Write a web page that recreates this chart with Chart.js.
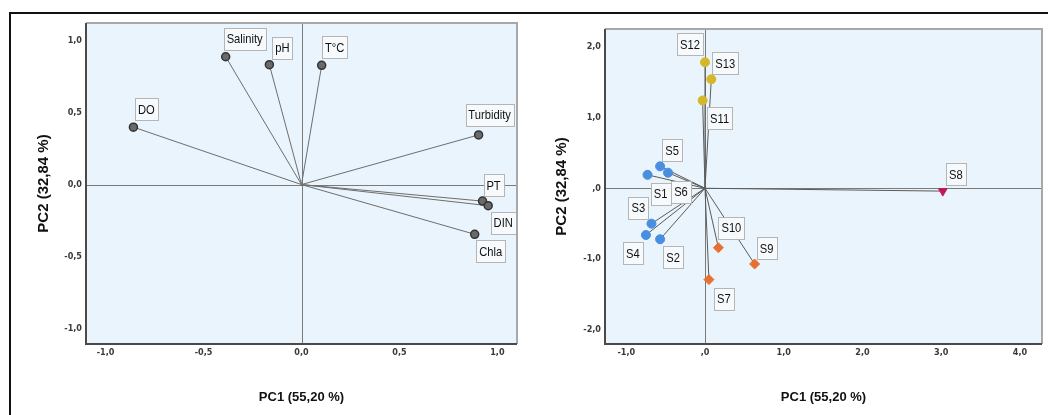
<!DOCTYPE html>
<html>
<head>
<meta charset="utf-8">
<script src="https://cdn.jsdelivr.net/npm/chart.js@4.4.1/dist/chart.umd.min.js"></script>
<style>
  html, body { margin: 0; padding: 0; background: #fff; }
  #wrap { position: relative; width: 1048px; height: 415px; overflow: hidden; }
  #frame { position: absolute; left: 9px; top: 12px; width: 1100px; height: 500px;
           border-top: 2px solid #111; border-left: 2px solid #111; pointer-events: none; }
  canvas { position: absolute; top: 0; }
</style>
</head>
<body>
<div id="wrap">
  <canvas id="loadings" width="535" height="415" style="left:0"></canvas>
  <canvas id="scores" width="513" height="415" style="left:535px"></canvas>
  <div id="frame"></div>
</div>
<script>
// ---- Variable loadings (PC1 / PC2) ----
const variables   = ['DO', 'Salinity', 'pH', 'T°C', 'Turbidity', 'PT', 'DIN', 'Chla'];
const pc1Loadings = [-0.858, -0.387, -0.164, 0.103, 0.904, 0.924, 0.953, 0.884];
const pc2Loadings = [0.400, 0.890, 0.835, 0.830, 0.346, -0.115, -0.147, -0.346];

// ---- Station scores (PC1 / PC2) ----
const stations  = ['S1', 'S2', 'S3', 'S4', 'S5', 'S6', 'S7', 'S8', 'S9', 'S10', 'S11', 'S12', 'S13'];
const pc1Scores = [-0.73, -0.57, -0.68, -0.75, -0.57, -0.47, 0.05, 3.02, 0.63, 0.17, -0.03, 0.00, 0.08];
const pc2Scores = [0.19, -0.72, -0.50, -0.66, 0.31, 0.22, -1.29, -0.04, -1.07, -0.84, 1.24, 1.78, 1.54];
const clusterOf = [1, 1, 1, 1, 1, 1, 2, 3, 2, 2, 4, 4, 4];

// ---- Tick values and labels ----
const loadTickValues   = [-1, -0.5, 0, 0.5, 1];
const loadTickLabels   = ['-1,0', '-0,5', '0,0', '0,5', '1,0'];
const scoreXTickValues = [-1, 0, 1, 2, 3, 4];
const scoreXTickLabels = ['-1,0', ',0', '1,0', '2,0', '3,0', '4,0'];
const scoreYTickValues = [-2, -1, 0, 1, 2];
const scoreYTickLabels = ['-2,0', '-1,0', ',0', '1,0', '2,0'];

const xTitle = 'PC1 (55,20 %)';
const yTitle = 'PC2 (32,84 %)';

// ---- Styling ----
const FONT = "'Liberation Sans',Arial,sans-serif";
const clusterStyle = {
  1: { color: '#4a8fdf', shape: 'circle',   rotation: 0,   radius: 4.5 },
  2: { color: '#e8702f', shape: 'rectRot',  rotation: 0,   radius: 5 },
  3: { color: '#c2185b', shape: 'triangle', rotation: 180, radius: 5 },
  4: { color: '#d4b82a', shape: 'circle',   rotation: 0,   radius: 4.5 }
};
// label box centre offsets from each marker, in pixels
const loadLabelOffset = [[13, -18], [19, -18], [13, -17], [13, -18], [11, -20], [11, -16], [15, 17], [16, 17]];
const scoreLabelOffset = [[13, 19], [13, 18], [-13, -16], [-13, 18], [12, -16], [13, 19], [15, 19],
                          [13, -17], [12, -16], [13, -20], [17, 18], [-15, -18], [14, -16]];
const LABEL_SQUEEZE = 0.86;   // narrow lettering for the point labels

// background, zero lines, frame and boxed point labels
const biplotDecor = {
  id: 'biplotDecor',
  beforeDatasetsDraw(chart) {
    const { ctx, chartArea: a, scales: { x, y } } = chart;
    ctx.save();
    ctx.fillStyle = '#e9f4fc';
    ctx.fillRect(a.left, a.top, a.right - a.left, a.bottom - a.top);
    const x0 = Math.round(x.getPixelForValue(0)) + 0.5;
    const y0 = Math.round(y.getPixelForValue(0)) + 0.5;
    ctx.strokeStyle = '#7a7a7a';
    ctx.lineWidth = 1;
    ctx.beginPath();
    ctx.moveTo(a.left, y0); ctx.lineTo(a.right, y0);
    ctx.moveTo(x0, a.top); ctx.lineTo(x0, a.bottom);
    ctx.stroke();
    ctx.restore();
  },
  afterDatasetsDraw(chart, args, opts) {
    const { ctx, chartArea: a, scales: { x, y } } = chart;
    ctx.save();
    ctx.font = '13px ' + FONT;
    ctx.textAlign = 'center';
    ctx.textBaseline = 'middle';
    opts.texts.forEach((t, i) => {
      const px = x.getPixelForValue(opts.xs[i]) + opts.offsets[i][0];
      const py = y.getPixelForValue(opts.ys[i]) + opts.offsets[i][1];
      const w = Math.round(ctx.measureText(t).width * LABEL_SQUEEZE + 6);
      const h = 22;
      const bx = Math.round(px - w / 2) + 0.5, by = Math.round(py - h / 2) + 0.5;
      ctx.fillStyle = 'rgba(248,250,252,0.95)';
      ctx.fillRect(bx, by, w, h);
      ctx.strokeStyle = '#b5b5b5';
      ctx.lineWidth = 1;
      ctx.strokeRect(bx, by, w, h);
      ctx.fillStyle = '#111';
      ctx.save();
      ctx.translate(px, py + 1);
      ctx.scale(LABEL_SQUEEZE, 1);
      ctx.fillText(t, 0, 0);
      ctx.restore();
    });
    // plot frame: light top/right, dark left/bottom
    ctx.lineWidth = 2;
    ctx.strokeStyle = '#a8a8a8';
    ctx.beginPath();
    ctx.moveTo(a.left, a.top); ctx.lineTo(a.right, a.top); ctx.lineTo(a.right, a.bottom);
    ctx.stroke();
    ctx.strokeStyle = '#4a4a4a';
    ctx.beginPath();
    ctx.moveTo(a.left, a.top); ctx.lineTo(a.left, a.bottom); ctx.lineTo(a.right, a.bottom);
    ctx.stroke();
    ctx.restore();
  }
};

function axis(min, max, values, labels, horizontal, size, titlePad) {
  return {
    type: 'linear',
    min, max,
    grid: { display: false, drawTicks: false },
    border: { display: false },
    afterBuildTicks: s => { s.ticks = values.map(v => ({ value: v })); },
    afterFit: s => { if (horizontal) s.height = size; else s.width = size; },
    ticks: {
      padding: horizontal ? 3 : 4,
      color: '#3a3a3a',
      font: { family: "'DejaVu Sans Condensed','Liberation Sans',sans-serif", size: 9, weight: 'bold' },
      callback: (v, i) => labels[i]
    },
    title: {
      display: true,
      text: horizontal ? xTitle : yTitle,
      color: '#111',
      font: { family: FONT, size: horizontal ? 13 : 15, weight: 'bold' },
      padding: horizontal ? { top: 0, bottom: titlePad } : { top: titlePad, bottom: 0 }
    }
  };
}

const baseOptions = {
  responsive: false,
  animation: false,
  devicePixelRatio: 1,
  plugins: { legend: { display: false }, tooltip: { enabled: false } },
  elements: { line: { tension: 0 } }
};

// ---- Loadings biplot ----
const loadSpokes = variables.map((v, i) => ({
  type: 'scatter',
  data: [{ x: 0, y: 0 }, { x: pc1Loadings[i], y: pc2Loadings[i] }],
  showLine: true, borderColor: '#6e6e6e', borderWidth: 1, pointRadius: 0, order: 1
}));
new Chart(document.getElementById('loadings'), {
  type: 'scatter',
  data: {
    datasets: [{
      data: variables.map((v, i) => ({ x: pc1Loadings[i], y: pc2Loadings[i] })),
      pointRadius: 4, pointBackgroundColor: '#6a6a6a', pointBorderColor: '#333',
      pointBorderWidth: 1.5, order: 0
    }, ...loadSpokes]
  },
  options: Object.assign({}, baseOptions, {
    layout: { padding: { left: 0, right: 18, top: 23, bottom: 0 } },
    scales: {
      x: axis(-1.1, 1.1, loadTickValues, loadTickLabels, true, 71, 10),
      y: axis(-1.11, 1.125, loadTickValues, loadTickLabels, false, 86, 35)
    },
    plugins: Object.assign({}, baseOptions.plugins, {
      biplotDecor: { texts: variables, xs: pc1Loadings, ys: pc2Loadings, offsets: loadLabelOffset }
    })
  }),
  plugins: [biplotDecor]
});

// ---- Station scores biplot ----
const scoreSpokes = stations.map((s, i) => ({
  type: 'scatter',
  data: [{ x: 0, y: 0 }, { x: pc1Scores[i], y: pc2Scores[i] }],
  showLine: true, borderColor: '#5a5a5a', borderWidth: 1, pointRadius: 0, order: 1
}));
const clusterSets = [1, 2, 3, 4].map(c => {
  const st = clusterStyle[c];
  const idx = stations.map((s, i) => i).filter(i => clusterOf[i] === c);
  return {
    data: idx.map(i => ({ x: pc1Scores[i], y: pc2Scores[i] })),
    pointStyle: st.shape, rotation: st.rotation, pointRadius: st.radius,
    pointBackgroundColor: st.color, pointBorderColor: st.color, pointBorderWidth: 1, order: 0
  };
});
new Chart(document.getElementById('scores'), {
  type: 'scatter',
  data: { datasets: [...clusterSets, ...scoreSpokes] },
  options: Object.assign({}, baseOptions, {
    layout: { padding: { left: 0, right: 5, top: 29, bottom: 0 } },
    scales: {
      x: axis(-1.27, 4.28, scoreXTickValues, scoreXTickLabels, true, 71, 10),
      y: axis(-2.2, 2.25, scoreYTickValues, scoreYTickLabels, false, 70, 18)
    },
    plugins: Object.assign({}, baseOptions.plugins, {
      biplotDecor: { texts: stations, xs: pc1Scores, ys: pc2Scores, offsets: scoreLabelOffset }
    })
  }),
  plugins: [biplotDecor]
});
</script>
</body>
</html>
